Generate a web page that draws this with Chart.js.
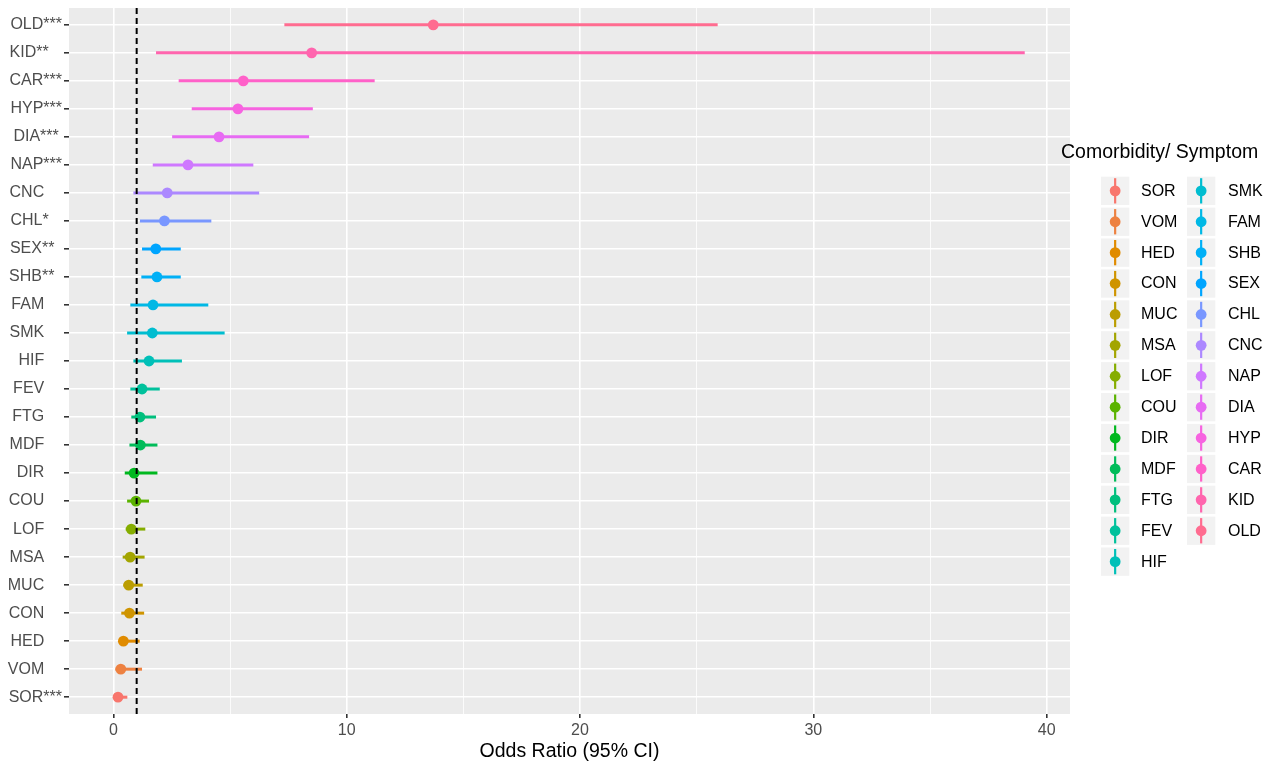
<!DOCTYPE html>
<html><head><meta charset="utf-8">
<script src="https://cdn.jsdelivr.net/npm/chart.js@4.4.1/dist/chart.umd.min.js"></script>
<style>html,body{margin:0;padding:0;background:#fff;overflow:hidden}#wrap{position:relative;width:1272px;height:763px}</style>
</head><body><div id="wrap"><canvas id="c" width="1272" height="763"></canvas></div>
<script>
// Categories in factor order (bottom of the plot to top)
const categories = ["SOR","VOM","HED","CON","MUC","MSA","LOF","COU","DIR","MDF","FTG","FEV","HIF","SMK","FAM","SHB","SEX","CHL","CNC","NAP","DIA","HYP","CAR","KID","OLD"];
// Y-axis tick labels (with significance stars, padded as in the original)
const axisLabels = ["SOR***","VOM    ","HED    ","CON    ","MUC    ","MSA    ","LOF    ","COU    ","DIR    ","MDF    ","FTG    ","FEV    ","HIF    ","SMK    ","FAM    ","SHB**\u2009 ","SEX**\u2009 ","CHL*   ","CNC    ","NAP***","DIA***\u2009","HYP***","CAR***","KID**   ","OLD***"];
// Odds ratios and 95% CI bounds
const oddsRatio = [0.20,0.32,0.43,0.69,0.66,0.72,0.77,0.97,0.89,1.16,1.14,1.23,1.53,1.67,1.70,1.87,1.82,2.19,2.31,3.20,4.53,5.34,5.57,8.50,13.71];
const ciLow     = [0.08,0.09,0.25,0.34,0.43,0.40,0.53,0.59,0.49,0.69,0.77,0.73,0.86,0.59,0.73,1.20,1.23,1.14,0.86,1.69,2.52,3.36,2.80,1.83,7.33];
const ciHigh    = [0.60,1.23,1.13,1.32,1.26,1.34,1.37,1.53,1.89,1.89,1.83,1.99,2.94,4.77,4.07,2.89,2.89,4.20,6.25,6.00,8.39,8.55,11.20,39.06,25.90];
// X-axis ticks
const xMajorTicks = [0,10,20,30,40];
const xMinorTicks = [5,15,25,35];
const refLine = 1;
const legendTitle = "Comorbidity/ Symptom";
const xTitle = "Odds Ratio (95% CI)";

// ggplot2 default hue palette (hcl, c=100, l=65)
function hcl2hex(h, c, l){
  const hr = h*Math.PI/180;
  const u = c*Math.cos(hr), v = c*Math.sin(hr);
  const Xn=95.047, Yn=100, Zn=108.883;
  const un = 4*Xn/(Xn+15*Yn+3*Zn), vn = 9*Yn/(Xn+15*Yn+3*Zn);
  const Y = Yn*Math.pow((l+16)/116,3);
  const up = u/(13*l)+un, vp = v/(13*l)+vn;
  const X = Y*9*up/(4*vp), Z = Y*(12-3*up-20*vp)/(4*vp);
  const x=X/100,y=Y/100,z=Z/100;
  let r = 3.240479*x -1.537150*y -0.498535*z;
  let g = -0.969256*x +1.875992*y +0.041556*z;
  let b = 0.055648*x -0.204043*y +1.057311*z;
  const gam = t => { t = t<=0.0031308 ? 12.92*t : 1.055*Math.pow(t,1/2.4)-0.055; return Math.round(Math.max(0,Math.min(1,t))*255); };
  return '#'+[gam(r),gam(g),gam(b)].map(n=>n.toString(16).padStart(2,'0')).join('');
}
const n = categories.length;
const colors = categories.map((_,i)=>hcl2hex(15+360/n*i,100,65));

const FONT = "'Liberation Sans', Arial, Helvetica, sans-serif";

const datasets = [];
datasets.push({
  type:'scatter', label:'ref', showLine:true,
  data:[{x:refLine,y:-0.6},{x:refLine,y:n-1+0.6}],
  borderColor:'#000', borderWidth:2, borderDash:[6,4], pointRadius:0, order:0
});
datasets.push({
  type:'scatter', label:'OR',
  data:categories.map((c,i)=>({x:oddsRatio[i],y:i})),
  backgroundColor:colors, borderWidth:0, pointRadius:5.4, pointHoverRadius:5.4, order:1
});
categories.forEach((c,i)=>{
  datasets.push({
    type:'scatter', label:c, showLine:true,
    data:[{x:ciLow[i],y:i},{x:ciHigh[i],y:i}],
    borderColor:colors[i], borderWidth:3, pointRadius:0, order:2
  });
});

const bgPlugin = {
  id:'panelbg',
  beforeDraw(chart){
    const {ctx, chartArea:a} = chart;
    ctx.save(); ctx.fillStyle='#EBEBEB';
    ctx.fillRect(a.left,a.top,a.right-a.left,a.bottom-a.top);
    ctx.restore();
  }
};
const legendPlugin = {
  id:'ggLegend',
  afterDraw(chart){
    const ctx = chart.ctx;
    ctx.save();
    ctx.fillStyle='#000'; ctx.textBaseline='middle'; ctx.textAlign='left';
    ctx.font = "19.5px "+FONT;
    ctx.fillText(legendTitle, 1061, 152.5);
    ctx.font = "16px "+FONT;
    const rows = 13, pitch = 30.9;
    categories.forEach((c,i)=>{
      const col = Math.floor(i/rows), row = i%rows;
      const kx = col? 1187 : 1101, ky = 176.7 + row*pitch;
      ctx.fillStyle='#F2F2F2'; ctx.fillRect(kx,ky,28.3,28.3);
      const cx = kx+14.15, cy = ky+14.15;
      ctx.strokeStyle=colors[i]; ctx.lineWidth=2.2;
      ctx.beginPath(); ctx.moveTo(cx,ky+1.5); ctx.lineTo(cx,ky+26.8); ctx.stroke();
      ctx.fillStyle=colors[i]; ctx.beginPath(); ctx.arc(cx,cy,5.4,0,Math.PI*2); ctx.fill();
      ctx.fillStyle='#000';
      ctx.fillText(c, col? 1228 : 1141, cy+0.5);
    });
    ctx.restore();
  }
};

new Chart(document.getElementById('c'), {
  type:'scatter',
  data:{datasets},
  options:{
    responsive:false, animation:false, devicePixelRatio:1,
    layout:{padding:{left:0,right:202,top:8,bottom:0}},
    plugins:{legend:{display:false}, tooltip:{enabled:false}},
    scales:{
      x:{
        type:'linear', min:-1.9, max:41.0,
        afterBuildTicks(s){ s.ticks = xMajorTicks.concat(xMinorTicks).sort((a,b)=>a-b).map(v=>({value:v})); },
        afterFit(s){ s.height = 49; s.paddingLeft = 0; s.paddingRight = 0; },
        ticks:{ autoSkip:false, maxRotation:0, padding:3, color:'#4D4D4D', font:{family:FONT,size:16},
          callback:(v)=> xMajorTicks.includes(v) ? String(v) : '' },
        grid:{ color:'#FFFFFF', lineWidth:(c)=> xMajorTicks.includes(c.tick && c.tick.value) ? 1.6 : 0.8,
          drawTicks:true, tickLength:4, tickWidth:1.6,
          tickColor:(c)=> xMajorTicks.includes(c.tick && c.tick.value) ? '#333333' : 'rgba(0,0,0,0)' },
        border:{display:false},
        title:{display:true, text:xTitle, color:'#000', font:{family:FONT,size:19.5}, padding:{top:0,bottom:0}}
      },
      y:{
        type:'linear', min:-0.6, max:n-1+0.6,
        afterBuildTicks(s){ s.ticks = categories.map((_,i)=>({value:i})); },
        afterFit(s){ s.width = 69; s.paddingTop = 0; s.paddingBottom = 0; },
        ticks:{ autoSkip:false, padding:2, color:'#4D4D4D', font:{family:FONT,size:16},
          callback:(v)=> axisLabels[v] },
        grid:{ color:'#FFFFFF', lineWidth:1.6, drawTicks:true, tickLength:5, tickWidth:1.6, tickColor:'#333333' },
        border:{display:false}
      }
    }
  },
  plugins:[bgPlugin, legendPlugin]
});
</script></body></html>
